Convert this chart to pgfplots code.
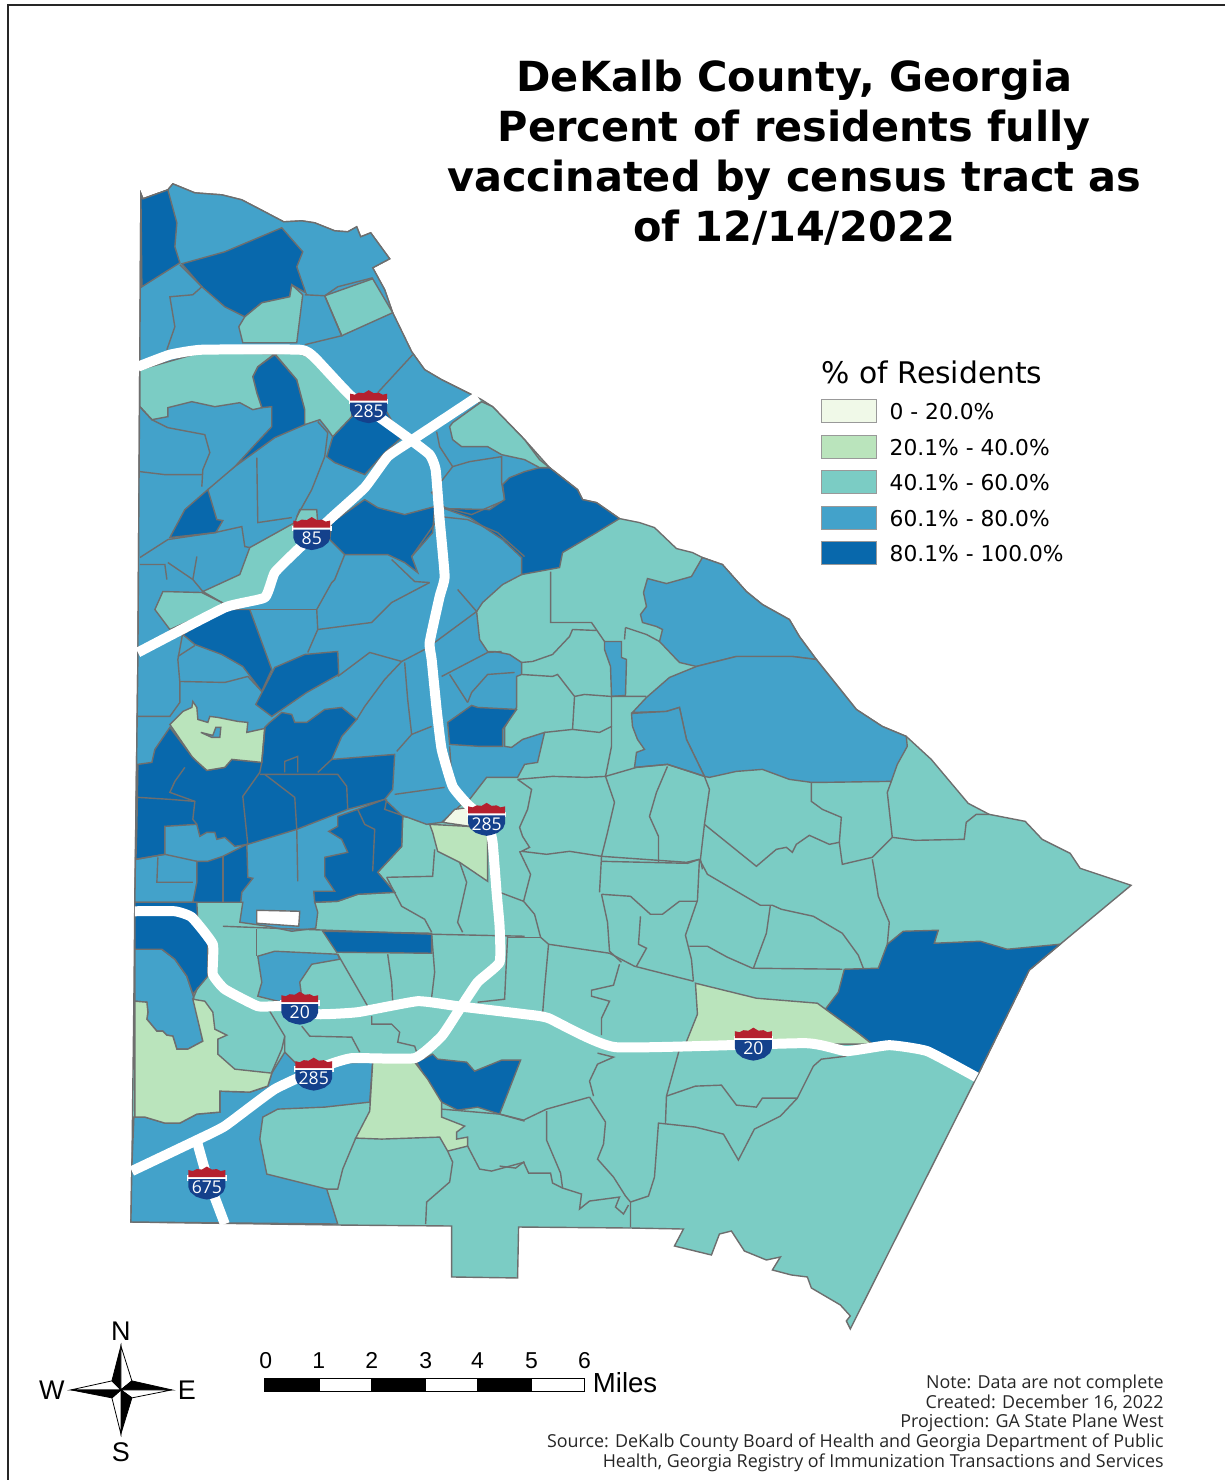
\documentclass[border=0pt]{standalone}
\usepackage{fontspec}
\setmainfont{DejaVu Sans}
\newfontfamily\arialf{Liberation Sans}
\newfontfamily\notef{Open Sans}
\usepackage{pgfplots}
\usepackage{pgfplotstable}
\pgfplotsset{compat=1.18}
\definecolor{cA}{HTML}{F0F9E8}
\definecolor{cB}{HTML}{BAE4BC}
\definecolor{cC}{HTML}{7BCCC4}
\definecolor{cD}{HTML}{43A2CA}
\definecolor{cE}{HTML}{0868AC}
\definecolor{tline}{HTML}{6E6E6E}
\definecolor{shred}{HTML}{B5202E}
\definecolor{shblue}{HTML}{14418C}
% one pixel of the reference = 0.5pt
\newcommand{\tract}[2]{\addplot[fill=#1,draw=tline,line width=0.7pt] coordinates {#2} -- cycle;}
\newcommand{\bd}[1]{\addplot[draw=tline,line width=0.7pt] coordinates {#1};}
\newcommand{\road}[1]{\addplot[draw=white,line width=5pt,line join=round,smooth,tension=0.25] coordinates {#1};}
\newcommand{\blk}[1]{\addplot[fill=black,draw=black,line width=0.4pt] coordinates {#1} -- cycle;}
\newcommand{\wht}[1]{\addplot[fill=white,draw=black,line width=0.4pt] coordinates {#1} -- cycle;}
\pgfplotstableread{
x y
-18.5 -6
-18.5 -13
-14 -12
-10 -14
-5 -13.5
0 -16.5
5 -13.5
10 -14
14 -12
18.5 -13
18.5 -6
}\shieldtop
\pgfplotstableread{
x y
-18.5 -4
-18.5 4
-16.5 9
-11 13.5
-5 15.5
0 16.5
5 15.5
11 13.5
16.5 9
18.5 4
18.5 -4
}\shieldbot
\newcommand{\shield}[3]{%
  \addplot[fill=white,draw=white,line width=0.8pt] coordinates {(#1-19,#2-7) (#1+19,#2-7) (#1+19,#2-3) (#1-19,#2-3)} -- cycle;
  \addplot[fill=shred,draw=none] table[x expr=\thisrow{x}+#1,y expr=\thisrow{y}+#2]{\shieldtop} -- cycle;
  \addplot[fill=shblue,draw=none] table[x expr=\thisrow{x}+#1,y expr=\thisrow{y}+#2]{\shieldbot} -- cycle;
  \node[text=white,font=\notef\fontsize{8.8}{10}\selectfont,anchor=center] at (axis cs:#1,#2+4.5) {#3};
}
\newcommand{\legbox}[2]{\addplot[fill=#1,draw=gray!80,line width=0.8pt] coordinates {(822,#2) (877,#2) (877,#2+23) (822,#2+23)} -- cycle;}
\begin{document}
\begin{tikzpicture}
\begin{axis}[
  scale only axis, width=613pt, height=740.5pt,
  xmin=0, xmax=1226, ymin=0, ymax=1481,
  y dir=reverse, hide axis, clip=false]

% keeps the page at the full size of the reference
\addplot[draw=none] coordinates {(0,0) (1226,0) (1226,1481) (0,1481)} -- cycle;

% county, base class
\tract{cC}{(141,194) (143,199) (168,190) (173,184) (195,193) (222,195) (242,200) (265,212) (284,222) (302,221) (315,223) (335,231) (348,232) (357,227) (361,237) (371,233) (390,259) (373,268) (385,290) (393,313) (412,352) (425,370) (442,380) (472,395) (482,400) (493,407) (525,440) (550,468) (578,490) (583,500) (597,503) (620,519) (640,523) (655,528) (677,549) (693,553) (703,558) (723,565) (747,592) (763,605) (790,620) (800,637) (817,660) (857,710) (883,727) (907,737) (932,760) (969,804) (990,815) (1026,822) (1043,840) (1071,854) (1081,869) (1132,886) (1061,945) (1030,971) (979,1075) (851,1330) (847,1322) (851,1317) (841,1306) (812,1289) (808,1278) (792,1276) (773,1271) (781,1258) (767,1261) (745,1252) (732,1232) (720,1235) (712,1256) (675,1247) (684,1230) (631,1229) (519,1228) (518,1279) (452,1278) (452,1227) (338,1226) (131,1223) (132,1167) (134,1000) (135,893) (138,660) (140,347)}

% 60-80 class
\tract{cD}{(141,194) (143,199) (168,190) (173,184) (195,193) (222,195) (242,200) (265,212) (284,222) (302,221) (315,223) (335,231) (348,232) (357,227) (361,237) (371,233) (390,259) (373,268) (385,290) (393,313) (412,352) (425,370) (442,380) (472,395) (540,468) (560,560) (522,575) (503,585) (483,603) (477,612) (480,640) (488,652) (495,652) (510,655) (522,663) (522,675) (517,677) (517,708) (505,728) (505,747) (512,748) (523,740) (545,733) (538,763) (525,765) (518,778) (487,778) (470,800) (462,805) (442,823) (427,825) (408,818) (403,817) (402,847) (378,873) (395,893) (358,895) (338,902) (315,903) (318,913) (316,929) (292,932) (268,927) (240,923) (243,903) (135,903) (138,660) (140,347)}
\tract{cD}{(703,558) (723,565) (747,592) (763,605) (790,620) (800,637) (817,660) (793,657) (737,657) (697,667) (680,663) (660,642) (663,630) (657,627) (643,623) (641,615) (647,607) (644,593) (648,579) (667,584) (692,577)}
\tract{cD}{(817,660) (857,710) (883,727) (907,737) (908,747) (898,765) (892,782) (823,783) (812,783) (790,780) (763,770) (737,772) (710,778) (705,777) (687,740) (680,708) (667,712) (633,713) (647,698) (670,678) (697,667) (737,657) (793,657)}
\tract{cD}{(632,714) (667,712) (680,708) (687,740) (705,777) (690,772) (668,765) (635,768) (637,753) (645,750) (638,740) (633,727)}
\tract{cD}{(605,642) (622,642) (622,658) (627,660) (626,696) (612,697) (611,667) (605,650)}
\tract{cD}{(258,957) (275,952) (338,955) (340,960) (312,965) (300,983) (302,998) (282,1003) (258,997) (262,983)}
\tract{cD}{(135,950) (162,950) (175,960) (187,977) (193,995) (203,1042) (188,1050) (177,1050) (173,1037) (167,1036) (163,1032) (157,1032) (147,1020) (148,1013) (147,1003) (135,1002)}
\tract{cD}{(134,1118) (145,1118) (165,1124) (180,1124) (197,1115) (220,1113) (220,1092) (250,1093) (268,1087) (272,1074) (285,1053) (297,1065) (373,1063) (370,1103) (325,1108) (278,1110) (263,1118) (260,1140) (267,1175) (327,1190) (338,1225) (131,1223) (132,1167)}

% 80-100 class
\tract{cE}{(141,194) (143,199) (168,190) (177,223) (175,247) (180,263) (142,287)}
\tract{cE}{(182,264) (225,252) (282,228) (303,252) (297,267) (306,293) (292,285) (290,297) (262,303) (245,317) (225,307) (202,287)}
\tract{cE}{(275,355) (297,380) (305,410) (305,425) (275,438) (235,467) (257,443) (272,427) (272,407) (262,408) (257,393) (253,377) (258,367)}
\tract{cE}{(352,417) (380,400) (402,438) (385,453) (365,475) (335,463) (327,457) (333,437)}
\tract{cE}{(208,490) (217,520) (223,521) (216,533) (170,538) (185,510)}
\tract{cE}{(332,523) (365,500) (378,508) (405,515) (435,507) (433,533) (412,557) (418,573) (405,563) (388,555) (345,555) (330,540)}
\tract{cE}{(550,468) (578,490) (583,500) (597,503) (620,519) (597,533) (563,553) (560,568) (522,575) (522,558) (503,540) (470,518) (445,509) (490,510) (505,500) (503,485) (510,478) (525,472) (540,468)}
\tract{cE}{(183,635) (195,645) (222,655) (243,667) (262,692) (272,670) (250,610) (223,610)}
\tract{cE}{(275,668) (305,655) (338,652) (339,675) (307,693) (272,717) (256,705)}
\tract{cE}{(448,723) (472,706) (478,708) (517,710) (503,730) (503,747) (480,747) (450,745)}
\tract{cE}{(170,728) (192,757) (197,762) (207,771) (225,768) (232,760) (262,763) (265,728) (270,723) (282,713) (292,715) (295,723) (307,723) (325,710) (342,708) (357,720) (342,737) (332,760) (395,755) (393,790) (385,800) (348,810) (297,830) (248,845) (235,847) (225,838) (217,840) (215,833) (207,833) (200,837) (197,825) (165,827) (165,855) (136,860) (137,827) (138,765) (152,763) (155,750)}
\tract{cE}{(208,862) (223,857) (247,845) (248,878) (253,879) (242,893) (241,903) (193,903) (197,883) (197,862)}
\tract{cE}{(385,800) (403,817) (402,847) (378,873) (395,893) (358,895) (338,902) (315,903) (314,892) (335,892) (325,877) (325,858) (348,853) (342,840) (329,832) (338,827) (338,817) (358,810)}
\tract{cE}{(135,903) (197,903) (198,925) (208,940) (208,977) (193,995) (187,977) (175,960) (162,950) (135,950)}
\tract{cE}{(323,932) (432,934) (432,954) (337,953)}
\tract{cE}{(417,1063) (433,1055) (438,1060) (467,1063) (475,1072) (502,1061) (521,1061) (500,1115) (478,1108) (458,1111) (442,1103) (430,1087)}
\tract{cE}{(826,1010) (839,993) (845,970) (879,969) (888,945) (904,932) (939,931) (935,944) (981,942) (1008,950) (1061,945) (1030,971) (979,1075) (932,1052) (892,1045) (873,1045) (859,1034)}

% 40-60 patches inside the blue block
\tract{cC}{(292,285) (303,295) (297,343) (243,343) (239,327) (245,317) (262,303) (290,297)}
\tract{cC}{(325,296) (373,279) (393,313) (342,336)}
\tract{cC}{(140,370) (200,353) (275,354) (258,367) (253,377) (257,393) (262,408) (253,410) (240,403) (215,407) (192,402) (168,408) (168,417) (152,420) (140,407)}
\tract{cC}{(275,354) (298,353) (315,360) (352,397) (352,417) (333,437) (328,430) (320,420) (305,425) (305,410) (297,380)}
\tract{cC}{(453,423) (482,402) (493,407) (525,440) (540,460) (550,468) (540,468) (525,460) (502,455) (488,447) (462,447) (453,440) (450,427)}
\tract{cC}{(300,510) (317,510) (318,525) (298,548) (275,575) (263,597) (225,605) (222,603) (203,592) (240,575) (250,548) (295,523)}
\tract{cC}{(155,610) (163,592) (202,593) (222,603) (222,607) (170,630)}

% 20-40 class
\tract{cB}{(170,725) (183,712) (192,708) (193,702) (197,708) (198,720) (208,723) (210,717) (218,718) (238,722) (248,723) (247,733) (265,729) (262,763) (232,760) (225,768) (207,771) (197,762) (192,757)}
\tract{cD}{(201,733) (213,736) (216,728) (221,728) (220,738) (212,738)}
\tract{cB}{(430,825) (468,827) (488,830) (488,882) (460,863) (438,852) (433,833)}
\tract{cB}{(135,1002) (147,1003) (148,1013) (147,1020) (157,1032) (163,1032) (167,1036) (173,1037) (177,1050) (188,1050) (203,1042) (193,1000) (205,1002) (213,1013) (215,1030) (227,1036) (218,1040) (218,1055) (235,1070) (272,1074) (268,1087) (250,1093) (220,1092) (220,1113) (197,1115) (180,1124) (165,1124) (145,1118) (135,1118)}
\tract{cB}{(373,1063) (415,1063) (428,1080) (442,1103) (442,1118) (465,1127) (457,1133) (457,1140) (468,1138) (468,1147) (448,1152) (440,1138) (382,1140) (356,1139) (370,1112)}
\tract{cB}{(696,984) (757,999) (818,1004) (859,1034) (873,1045) (686,1045) (698,1015)}

% 0-20 class
\tract{cA}{(443,823) (455,810) (470,808) (470,827)}

% tract with no data
\addplot[fill=white,draw=tline,line width=0.7pt] coordinates {(257,911) (300,912) (299,927) (257,924)} -- cycle;

% tract boundaries, north west
\bd{(180,265) (202,287) (193,295) (170,297) (175,327) (167,350)}
\bd{(305,295) (325,296) (342,336) (305,345)}
\bd{(413,355) (378,393)}
\bd{(373,278) (338,287) (325,296)}
\bd{(140,407) (152,420) (168,428) (205,435) (210,453) (203,470) (202,487)}
\bd{(140,472) (165,475) (202,475)}
\bd{(235,467) (208,490)}
\bd{(257,458) (258,523) (292,518)}
\bd{(318,422) (328,433) (325,457) (312,490) (297,517)}
\bd{(140,558) (168,540) (215,533) (242,527) (245,547) (250,548)}
\bd{(140,565) (165,565) (167,580)}
\bd{(197,557) (193,580)}
\bd{(168,563) (193,580) (203,592)}
\bd{(437,432) (440,447) (453,467) (443,480) (432,493) (445,508)}
\bd{(453,467) (470,462) (502,457) (502,483) (505,500)}
\bd{(445,508) (472,515) (502,502)}
\bd{(412,557) (440,517) (468,520) (498,533) (525,557)}
\bd{(345,555) (335,580) (332,583) (317,610) (318,630) (308,653)}
\bd{(430,583) (415,582) (392,560)}
\bd{(318,630) (372,623) (392,603) (430,583)}
\bd{(248,610) (317,610)}
\bd{(458,590) (477,612) (435,643)}
\bd{(502,652) (488,653) (442,677)}
\bd{(402,662) (425,650)}
\bd{(338,677) (370,653) (402,662) (385,680) (365,707) (357,720)}
\bd{(405,663) (408,700) (412,735) (397,752)}
\bd{(412,735) (432,727)}
\bd{(450,675) (468,703)}
\bd{(468,703) (472,693) (488,675) (515,673)}
\bd{(450,747) (452,777) (458,790)}
\bd{(387,800) (385,810) (408,818)}
\bd{(395,795) (445,788)}
\bd{(183,633) (178,660) (180,683) (180,703) (170,717) (138,717)}
\bd{(180,682) (225,683) (248,677) (262,692)}
\bd{(195,646) (178,657)}
\bd{(265,728) (262,763) (260,773) (243,797) (248,845)}
\bd{(185,768) (175,782) (170,793) (195,802) (193,820) (197,825)}
\bd{(138,798) (170,800) (195,802)}
\bd{(260,775) (338,775) (347,787) (348,810)}
\bd{(285,773) (285,762) (298,757) (298,773)}
\bd{(265,775) (295,798) (297,830) (298,882)}
\bd{(318,773) (332,760)}
\bd{(358,810) (365,825) (375,830) (373,872)}
\bd{(158,858) (157,883) (193,883)}
\bd{(136,860) (165,855) (197,862)}
\bd{(223,857) (223,903)}
\bd{(135,903) (240,903)}

% tract boundaries, centre and south
\bd{(387,878) (402,907) (425,920) (432,933)}
\bd{(435,850) (433,877) (387,878)}
\bd{(460,863) (467,883) (458,923) (463,933)}
\bd{(223,927) (433,935) (525,937)}
\bd{(257,930) (257,957)}
\bd{(338,955) (368,1007)}
\bd{(388,955) (392,983) (393,1002)}
\bd{(432,935) (435,973) (432,998)}
\bd{(372,1017) (372,1025) (392,1025) (400,1033) (398,1043) (415,1047) (417,1053)}
\bd{(270,1012) (285,1037) (285,1053)}
\bd{(285,1037) (282,1050) (272,1073)}
\bd{(302,1027) (310,1037) (352,1038) (360,1053)}
\bd{(508,937) (505,1000) (478,1003)}
\bd{(442,1110) (500,1115) (525,1122)}
\bd{(468,1147) (480,1170) (492,1172) (525,1163)}
\bd{(448,1152) (453,1163) (450,1183) (427,1203) (426,1225)}
\bd{(327,1190) (338,1190) (343,1170) (356,1139)}
\bd{(198,988) (193,1000)}

% tract boundaries, east
\bd{(551,572) (551,623) (592,623) (605,642)}
\bd{(597,631) (573,630) (570,637) (553,655) (533,662) (522,663)}
\bd{(522,675) (553,677) (558,675) (575,697) (573,730) (545,733)}
\bd{(573,730) (600,733) (612,727) (612,697)}
\bd{(575,697) (585,695) (612,697) (647,697)}
\bd{(612,727) (612,747) (606,777)}
\bd{(626,628) (625,640)}
\bd{(626,628) (647,635) (660,642)}
\bd{(518,780) (553,777) (587,778) (606,777) (637,768) (668,765) (705,777)}
\bd{(518,780) (532,790) (528,810) (520,828) (523,837) (530,848) (522,852) (547,855) (570,852) (602,857) (687,863) (700,860)}
\bd{(606,777) (615,803) (608,833) (602,857) (600,893)}
\bd{(668,767) (657,793) (650,817) (659,837) (659,863)}
\bd{(705,777) (710,790) (705,825) (701,860) (703,870)}
\bd{(705,825) (757,867) (777,850) (787,848) (793,853) (797,845) (810,836) (830,845) (840,843) (842,818) (823,810) (812,802) (812,783)}
\bd{(840,843) (843,865) (873,858) (893,838) (888,793) (892,782)}
\bd{(893,838) (916,841) (965,840) (967,823) (977,815) (990,815)}
\bd{(700,860) (708,875) (761,906) (773,906) (782,910) (814,917) (843,934) (859,956) (864,969)}
\bd{(771,906) (767,934) (754,969)}
\bd{(873,860) (875,871) (879,897) (890,923) (888,945)}
\bd{(690,947) (708,947) (728,958) (753,969) (843,970)}
\bd{(700,860) (698,901) (686,936) (692,960) (694,982)}
\bd{(602,862) (688,864) (700,860)}
\bd{(602,895) (631,897) (651,915) (663,915) (680,902) (698,902)}
\bd{(602,895) (608,923) (610,952) (622,963)}
\bd{(641,917) (639,945) (647,949) (637,967)}
\bd{(520,852) (531,875) (524,902) (535,915) (541,938) (549,945) (610,954) (635,967) (694,982)}
\bd{(508,938) (541,938)}
\bd{(549,945) (545,989) (543,1015)}
\bd{(620,965) (614,986) (592,991) (592,997) (610,1002) (602,1019) (602,1036)}
\bd{(598,1054) (614,1058) (598,1065) (590,1082) (594,1097)}
\bd{(680,1050) (667,1097) (666,1124)}
\bd{(667,1097) (696,1087) (722,1086) (737,1106) (757,1108) (763,1099) (798,1099) (814,1067) (822,1060) (847,1057)}
\bd{(798,1099) (781,1117) (755,1130) (739,1161) (724,1135) (696,1128) (659,1124) (655,1178) (649,1197) (631,1203) (631,1228)}
\bd{(590,1098) (547,1110) (524,1121) (500,1115)}
\bd{(590,1098) (606,1123) (604,1145) (598,1160) (614,1178) (626,1197) (631,1203)}
\bd{(547,1112) (547,1141) (561,1174) (563,1189) (582,1195) (580,1210) (590,1202) (620,1198) (616,1208) (624,1215) (629,1206)}
\bd{(500,1167) (516,1169) (524,1163) (529,1174) (551,1174) (553,1184) (563,1189)}
\bd{(500,893) (524,902)}

% interstates
\road{(138,367) (170,355) (202,350) (300,350) (315,358) (352,397) (408,438) (430,455) (436,470) (440,520) (445,577) (440,597) (430,643) (432,660) (437,710) (442,750) (453,787) (468,805) (488,823) (493,843) (497,893) (500,927) (500,963) (478,983) (458,1013) (442,1037) (415,1059) (352,1059) (325,1067) (275,1090) (225,1127) (195,1142) (132,1172)}
\road{(478,397) (410,442) (388,457) (365,488) (332,518) (298,550) (275,573) (265,598) (225,608) (138,653)}
\road{(135,912) (175,912) (192,918) (213,945) (213,975) (225,990) (258,1007) (282,1007) (318,1015) (358,1013) (418,1002) (458,1007) (525,1015) (549,1019) (616,1048) (806,1044) (847,1052) (890,1046) (928,1052) (977,1078)}
\road{(197,1142) (207,1177) (225,1225)}
\shield{369}{407}{285}
\shield{312}{534}{85}
\shield{487}{820}{285}
\shield{300}{1009}{20}
\shield{314}{1075}{285}
\shield{754}{1045}{20}
\shield{207}{1184}{675}

% frame
\addplot[draw=black!85,line width=1.2pt] coordinates {(1226,5) (8,5) (8,1481)};

% title
\node[font=\fontsize{20.75}{24}\selectfont\bfseries,anchor=base] at (axis cs:795,92) {DeKalb County, Georgia};
\node[font=\fontsize{20.75}{24}\selectfont\bfseries,anchor=base] at (axis cs:795,142) {Percent of residents fully};
\node[font=\fontsize{20.75}{24}\selectfont\bfseries,anchor=base] at (axis cs:795,192) {vaccinated by census tract as};
\node[font=\fontsize{20.75}{24}\selectfont\bfseries,anchor=base] at (axis cs:795,242) {of 12/14/2022};

% legend
\node[font=\fontsize{14.9}{17}\selectfont,anchor=base west,inner sep=0pt] at (axis cs:822,384) {\% of Residents};
\legbox{cA}{400}
\legbox{cB}{436}
\legbox{cC}{471}
\legbox{cD}{507}
\legbox{cE}{542}
\node[font=\fontsize{10.9}{13}\selectfont,anchor=base west,inner sep=0pt] at (axis cs:890,420) {0 - 20.0\%};
\node[font=\fontsize{10.9}{13}\selectfont,anchor=base west,inner sep=0pt] at (axis cs:890,456) {20.1\% - 40.0\%};
\node[font=\fontsize{10.9}{13}\selectfont,anchor=base west,inner sep=0pt] at (axis cs:890,491) {40.1\% - 60.0\%};
\node[font=\fontsize{10.9}{13}\selectfont,anchor=base west,inner sep=0pt] at (axis cs:890,527) {60.1\% - 80.0\%};
\node[font=\fontsize{10.9}{13}\selectfont,anchor=base west,inner sep=0pt] at (axis cs:890,562) {80.1\% - 100.0\%};

% compass
\blk{(121,1347) (112,1382) (121,1391)}
\wht{(121,1347) (132,1382) (121,1391)}
\blk{(172,1391) (132,1382) (121,1391)}
\wht{(172,1391) (132,1399) (121,1391)}
\blk{(121,1435) (132,1399) (121,1391)}
\wht{(121,1435) (112,1399) (121,1391)}
\blk{(71,1391) (112,1399) (121,1391)}
\wht{(71,1391) (112,1382) (121,1391)}
\node[font=\arialf\fontsize{13.5}{16}\selectfont,anchor=center] at (axis cs:121,1332) {N};
\node[font=\arialf\fontsize{13.5}{16}\selectfont,anchor=center] at (axis cs:52,1391) {W};
\node[font=\arialf\fontsize{13.5}{16}\selectfont,anchor=center] at (axis cs:187,1391) {E};
\node[font=\arialf\fontsize{13.5}{16}\selectfont,anchor=center] at (axis cs:121,1453) {S};

% scale bar
\blk{(265,1379) (320,1379) (320,1393) (265,1393)}
\wht{(320,1379) (372,1379) (372,1393) (320,1393)}
\blk{(372,1379) (426,1379) (426,1393) (372,1393)}
\wht{(426,1379) (478,1379) (478,1393) (426,1393)}
\blk{(478,1379) (532,1379) (532,1393) (478,1393)}
\wht{(532,1379) (585,1379) (585,1393) (532,1393)}
\node[font=\arialf\fontsize{11.5}{14}\selectfont,anchor=base] at (axis cs:266,1370) {0};
\node[font=\arialf\fontsize{11.5}{14}\selectfont,anchor=base] at (axis cs:319,1370) {1};
\node[font=\arialf\fontsize{11.5}{14}\selectfont,anchor=base] at (axis cs:372,1370) {2};
\node[font=\arialf\fontsize{11.5}{14}\selectfont,anchor=base] at (axis cs:426,1370) {3};
\node[font=\arialf\fontsize{11.5}{14}\selectfont,anchor=base] at (axis cs:478,1370) {4};
\node[font=\arialf\fontsize{11.5}{14}\selectfont,anchor=base] at (axis cs:532,1370) {5};
\node[font=\arialf\fontsize{11.5}{14}\selectfont,anchor=base] at (axis cs:585,1370) {6};
\node[font=\arialf\fontsize{13.8}{16}\selectfont,anchor=base west,inner sep=0pt] at (axis cs:593,1394) {Miles};

% notes
\node[font=\notef\fontsize{8.95}{11}\selectfont,anchor=base east,inner sep=0pt,text=black!85] at (axis cs:1165,1390) {Note: Data are not complete};
\node[font=\notef\fontsize{8.95}{11}\selectfont,anchor=base east,inner sep=0pt,text=black!85] at (axis cs:1165,1410) {Created: December 16, 2022};
\node[font=\notef\fontsize{8.95}{11}\selectfont,anchor=base east,inner sep=0pt,text=black!85] at (axis cs:1165,1429) {Projection: GA State Plane West};
\node[font=\notef\fontsize{8.95}{11}\selectfont,anchor=base east,inner sep=0pt,text=black!85] at (axis cs:1165,1449) {Source: DeKalb County Board of Health and Georgia Department of Public};
\node[font=\notef\fontsize{8.95}{11}\selectfont,anchor=base east,inner sep=0pt,text=black!85] at (axis cs:1165,1469) {Health, Georgia Registry of Immunization Transactions and Services};
\end{axis}
\end{tikzpicture}
\end{document}
